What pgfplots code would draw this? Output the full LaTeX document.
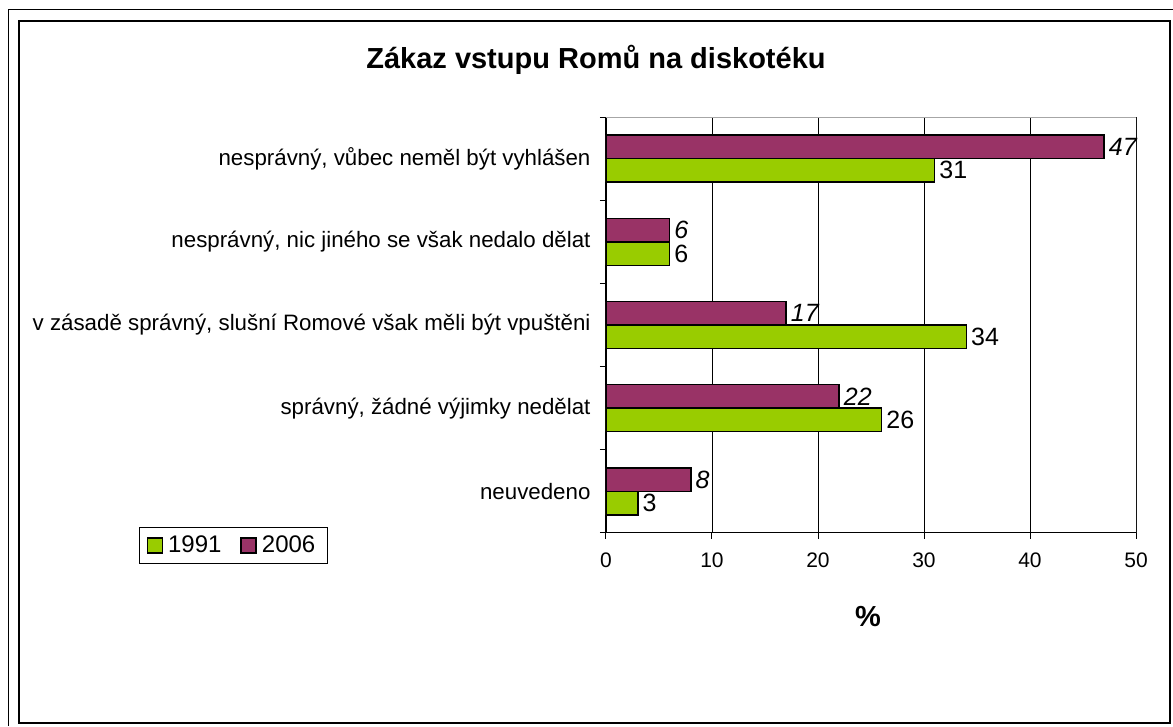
\documentclass[border=0pt]{standalone}
\usepackage{pgfplots}
\pgfplotsset{compat=1.18}
\usepackage{fontspec}
\setmainfont{Liberation Sans}
\definecolor{cgreen}{HTML}{99CC00}
\definecolor{cpurple}{HTML}{993366}
\newcommand{\tf}{\fontsize{21}{25}\selectfont}
\newcommand{\cf}{\fontsize{22.3}{26}\selectfont}
\newcommand{\df}{\fontsize{25}{29}\selectfont}
\newcommand{\gf}{\fontsize{24}{28}\selectfont}
\begin{document}
\begin{tikzpicture}[x=1pt,y=1pt]
\useasboundingbox (0,0) rectangle (1173,726);
\fill[white] (0,0) rectangle (1173,726);
\draw[black, line width=1pt] (8,0) -- (8,716) -- (1173,716);
\draw[black, line width=1.2pt] (19,3) rectangle (1170,705);
\node[font=\fontsize{29}{34}\selectfont\bfseries] at (596,666) {Zákaz vstupu Romů na diskotéku};
\node[font=\fontsize{29}{34}\selectfont\bfseries] at (868,109) {\%};
\begin{axis}[
  at={(606pt,193pt)}, anchor=south west,
  width=530pt, height=416pt, scale only axis,
  xbar, xmin=0, xmax=50, ymin=0.5, ymax=5.5,
  axis x line*=bottom, axis y line*=left,
  axis line style={-, black, line width=1pt},
  xtick={0,10,...,50},
  xmajorgrids, grid style={black, line width=0.8pt},
  ytick={0.5,1.5,...,5.5}, yticklabels={},
  extra y ticks={1,2,3,4,5},
  extra y tick labels={neuvedeno, {správný, žádné výjimky nedělat}, {v zásadě správný, slušní Romové však měli být vpuštěni}, {nesprávný, nic jiného se však nedalo dělat}, {nesprávný, vůbec neměl být vyhlášen}},
  extra y tick style={major tick length=0pt, yticklabel style={xshift=-12pt, font=\cf}},
  tick align=outside, major tick length=6pt,
  tick style={black, line width=1pt},
  ticklabel style={font=\tf},
  xticklabel style={yshift=-10pt},
  /pgf/number format/assume math mode=true,
  bar width=23.5pt,
  point meta=x,
  legend image code/.code={\draw[#1] (0pt,-7.5pt) rectangle (15pt,7.5pt);},
  legend style={at={(rel axis cs:-0.881,-0.0745)}, anchor=south west,
    draw=black, line width=1pt, font=\gf, inner xsep=7pt, inner ysep=7pt,
    /tikz/every even column/.append style={column sep=14pt},
    nodes={inner xsep=5pt}},
  legend columns=2,
]
\addplot[fill=cgreen, draw=black, line width=1.5pt, bar shift=-11.75pt,
  nodes near coords, nodes near coords style={font=\df, anchor=west, black, inner xsep=4pt}]
  coordinates {(3,1) (26,2) (34,3) (6,4) (31,5)};
\addplot[fill=cpurple, draw=black, line width=1.5pt, bar shift=11.75pt,
  nodes near coords, nodes near coords style={font=\df\itshape, anchor=west, black, inner xsep=4pt}]
  coordinates {(8,1) (22,2) (17,3) (6,4) (47,5)};
\legend{1991,2006}
\draw[gray!70, line width=1pt] (rel axis cs:0,1) -- (rel axis cs:1,1) -- (rel axis cs:1,0);
\end{axis}
\end{tikzpicture}
\end{document}
